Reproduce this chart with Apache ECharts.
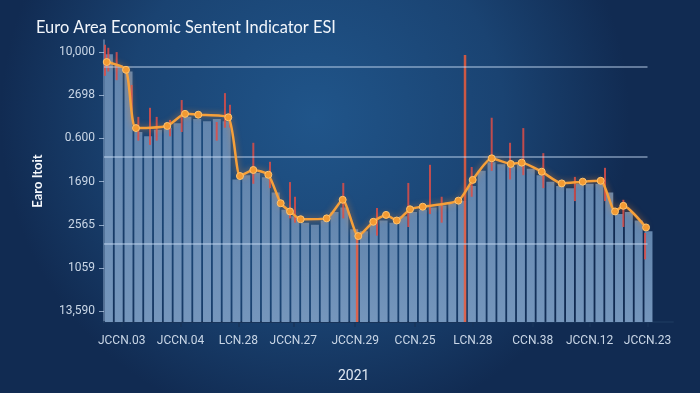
<!DOCTYPE html>
<html><head><meta charset="utf-8">
<script src="https://cdn.jsdelivr.net/npm/echarts@6/dist/echarts.min.js"></script>
<style>html,body{margin:0;padding:0;background:#173a63}#c{width:700px;height:393px}</style>
</head><body><div id="c"></div>
<script>
const chartTitle = 'Euro Area Economic Sentent Indicator ESI';
const yAxisName = 'Earo Itoit';
const yearLabel = '2021';
const yTickLabels = ['13,590', '1059', '2565', '1690', '0.600', '2698', '10,000'];
const yTickValues = [0.25, 1.25, 2.25, 3.25, 4.25, 5.25, 6.25];
const xTickLabels = ['JCCN.03', 'JCCN.04', 'LCN.28', 'JCCN.27', 'JCCN.29', 'CCN.25', 'LCN.28', 'CCN.38', 'JCCN.12', 'JCCN.23'];
const xTickValues = [1.8, 7.8, 13.7, 19.3, 25.6, 31.7, 37.6, 43.7, 49.5, 55.4];

const barValues = [6.2, 5.95, 5.8, 4.4, 4.3, 4.45, 4.5, 4.6, 4.75, 4.7,
  4.65, 4.7, 4.65, 3.3, 3.4, 3.45, 3.35, 3.0, 2.6, 2.45,
  2.3, 2.25, 2.35, 2.55, 2.65, 2.15, 2.1, 2.25, 2.35, 2.3,
  2.45, 2.55, 2.6, 2.65, 2.7, 2.75, 2.8, 3.15, 3.5, 3.7,
  3.65, 3.6, 3.65, 3.55, 3.4, 3.25, 3.15, 3.1, 3.2, 3.2,
  3.2, 3.0, 2.5, 2.55, 2.35, 2.1];

const lineX = [0.28, 2.24, 3.26, 6.45, 8.26, 9.61, 12.67, 13.86, 15.22, 16.75,
  18.01, 18.96, 20.05, 22.70, 24.33, 25.92, 27.45, 28.75, 29.84, 31.19,
  32.49, 36.12, 37.58, 39.52, 41.46, 42.58, 44.62, 46.66, 48.80, 50.63,
  52.09, 52.94, 55.25];
const lineY = [6.02, 5.84, 4.49, 4.54, 4.82, 4.80, 4.74, 3.38, 3.52, 3.41,
  2.75, 2.56, 2.38, 2.40, 2.83, 1.99, 2.32, 2.48, 2.35, 2.61,
  2.67, 2.81, 3.29, 3.79, 3.66, 3.69, 3.48, 3.21, 3.25, 3.27,
  2.56, 2.69, 2.19];

const spikeX = [0.1, 0.44, 1.29, 2.82, 3.5, 4.69, 5.37, 6.73, 7.92, 11.49,
  12.33, 12.84, 15.22, 16.92, 18.96, 19.47, 24.39, 27.83, 31.02, 33.23,
  34.42, 37.48, 39.52, 41.39, 42.74, 44.78, 48.0, 51.07, 52.94, 55.15];
const spikeLow = [5.7, 5.8, 5.6, 4.9, 4.2, 4.1, 4.2, 4.3, 4.4, 4.2,
  4.5, 4.5, 3.2, 3.1, 2.4, 2.3, 2.4, 2.0, 2.2, 2.5,
  2.3, 2.9, 3.5, 3.3, 3.4, 3.1, 2.8, 2.8, 2.2, 1.45];
const spikeHigh = [6.42, 6.35, 6.25, 5.49, 4.75, 4.96, 4.75, 4.68, 5.14, 4.63,
  5.30, 5.03, 4.15, 3.71, 3.24, 2.90, 3.22, 2.64, 3.22, 3.64,
  2.90, 3.59, 4.73, 4.15, 4.49, 3.91, 3.36, 3.57, 2.83, 2.06];

const longSpikeX = [25.8, 36.8];
const longSpikeY = [1.99, 6.18];
const gridLevels = [1.81, 3.82, 5.91];
const gridLineEnd = 55.4;

const chart = echarts.init(document.getElementById('c'), null, {renderer: 'canvas'});
const labelColor = '#c9d6e6';
const xAxisBase = {type: 'value', min: 0, max: 58, gridIndex: 0};

const option = {
  backgroundColor: new echarts.graphic.RadialGradient(0.45, 0.3, 0.8, [
    {offset: 0, color: '#20558a'},
    {offset: 0.6, color: '#1a4372'},
    {offset: 1, color: '#112b52'}
  ]),
  animation: false,
  title: [
    {text: chartTitle, left: 31, top: 15, textStyle: {color: '#f2f6fb', fontSize: 16.4, fontWeight: 'normal', fontFamily: 'Lato'}},
    {text: yearLabel, left: 333, top: 364, textStyle: {color: '#dfe8f2', fontSize: 14, fontWeight: 'normal', fontFamily: 'Roboto'}}
  ],
  grid: {left: 104, right: 27, top: 40, bottom: 71, containLabel: false},
  xAxis: [
    Object.assign({}, xAxisBase, {
      axisLine: {show: true, lineStyle: {color: '#18345a', width: 2}},
      axisTick: {show: true, customValues: xTickValues, length: 5, lineStyle: {color: '#18345a', width: 1.5}},
      axisLabel: {show: true, customValues: xTickValues, margin: 13, color: labelColor, fontSize: 12, fontFamily: 'Roboto',
        formatter: function (v) { for (let k = 0; k < xTickValues.length; k++) { if (Math.abs(xTickValues[k] - v) < 1e-6) return xTickLabels[k]; } return ''; }},
      splitLine: {show: false}
    }),
    Object.assign({}, xAxisBase, {show: false})
  ],
  yAxis: {
    type: 'value', min: 0, max: 6.53,
    name: yAxisName, nameLocation: 'middle', nameGap: 60, nameRotate: 90,
    nameTextStyle: {color: '#f4f7fb', fontSize: 13, fontWeight: 'bold', fontFamily: 'Lato'},
    axisLine: {show: true, lineStyle: {color: 'rgba(170,195,225,0.55)', width: 1.5}},
    axisTick: {show: true, customValues: yTickValues, length: 5, lineStyle: {color: 'rgba(190,210,235,0.7)'}},
    axisLabel: {show: true, customValues: yTickValues, margin: 9, color: labelColor, fontSize: 12, fontFamily: 'Roboto',
      formatter: function (v) { for (let k = 0; k < yTickValues.length; k++) { if (Math.abs(yTickValues[k] - v) < 1e-6) return yTickLabels[k]; } return ''; }},
    splitLine: {show: false}
  },
  series: [
    {
      type: 'bar', xAxisIndex: 0, z: 2, barWidth: 8, silent: true,
      itemStyle: {
        color: new echarts.graphic.LinearGradient(0, 0, 0, 1, [
          {offset: 0, color: '#6386ae'},
          {offset: 1, color: '#7596bc'}
        ])
      },
      data: barValues.map((v, i) => [i + 0.5, v])
    },
    {
      type: 'custom', xAxisIndex: 0, z: 3, silent: true,
      encode: {x: 0, y: [1, 2]},
      renderItem: function (params, api) {
        const p1 = api.coord([api.value(0), api.value(1)]);
        const p2 = api.coord([api.value(0), api.value(2)]);
        return {type: 'line', shape: {x1: p1[0], y1: p1[1], x2: p2[0], y2: p2[1]},
          style: {stroke: 'rgba(222,78,72,0.85)', lineWidth: 2}};
      },
      data: spikeX.map((x, i) => [x, spikeLow[i], spikeHigh[i]])
    },
    {
      type: 'bar', xAxisIndex: 1, z: 3, barWidth: 2.5, silent: true,
      itemStyle: {color: 'rgba(236,92,60,0.85)'},
      data: longSpikeX.map((x, i) => [x, longSpikeY[i]]),
      markLine: {
        silent: true, symbol: 'none', label: {show: false},
        lineStyle: {color: 'rgba(200,222,245,0.6)', width: 1.5, type: 'solid'},
        data: gridLevels.map(v => [{coord: [0, v]}, {coord: [gridLineEnd, v]}])
      }
    },
    {
      type: 'line', xAxisIndex: 0, z: 5, smooth: 0.2, silent: true,
      symbol: 'circle', symbolSize: 7,
      lineStyle: {color: '#f6a03a', width: 2.5, shadowColor: 'rgba(255,140,40,0.6)', shadowBlur: 6},
      itemStyle: {color: '#f39a32', borderColor: '#ffc46e', borderWidth: 1},
      data: lineX.map((x, i) => [x, lineY[i]])
    }
  ]
};
chart.setOption(option);
</script></body></html>
